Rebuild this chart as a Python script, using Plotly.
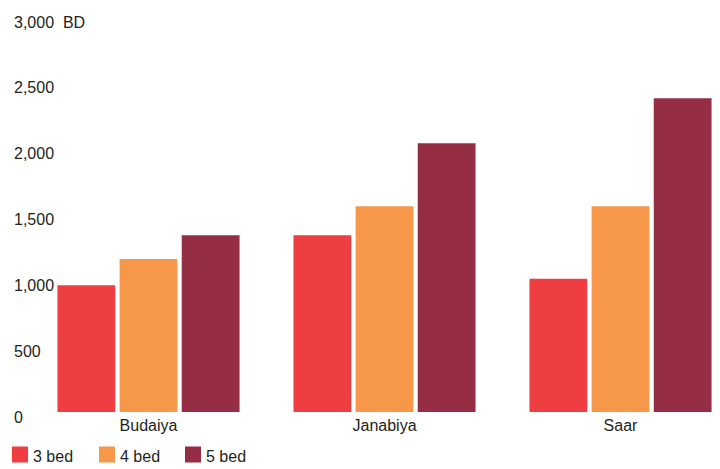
import plotly.graph_objects as go

# Monthly rents (BD) by area and villa size
areas = ["Budaiya", "Janabiya", "Saar"]
series_names = ["3 bed", "4 bed", "5 bed"]
rent_3bed = [1000, 1380, 1050]
rent_4bed = [1200, 1600, 1600]
rent_5bed = [1380, 2080, 2420]
series_values = [rent_3bed, rent_4bed, rent_5bed]
colors = ["#EE3E42", "#F69749", "#952D44"]

tick_values = [0, 500, 1000, 1500, 2000, 2500, 3000]
tick_labels = ["0", "500", "1,000", "1,500", "2,000", "2,500", "3,000  BD"]

FONT = "Liberation Sans, Arial, sans-serif"
TEXT_COLOR = "#231F20"
FONT_SIZE = 16

L, R, T, B = 40, 0, 22, 57
W, H = 720, 469
plot_w = W - L - R
plot_h = H - T - B
Y_RANGE = [38, 3000]


def px_x(px):
    """Horizontal pixel position -> paper fraction."""
    return (px - L) / plot_w


def px_y(px):
    """Vertical pixel position -> paper fraction."""
    return (H - B - px) / plot_h


fig = go.Figure()

for name, vals, col in zip(series_names, series_values, colors):
    fig.add_trace(go.Bar(
        x=areas, y=vals, name=name, marker=dict(color=col, line=dict(width=0)),
        showlegend=False, hoverinfo="x+y",
    ))

# left-aligned value labels placed on the y scale
for v, lab in zip(tick_values, tick_labels):
    fig.add_annotation(
        x=px_x(12), xref="paper",
        y=(v - Y_RANGE[0]) / (Y_RANGE[1] - Y_RANGE[0]), yref="paper",
        text=lab, showarrow=False, xanchor="left", yanchor="middle",
        font=dict(family=FONT, size=FONT_SIZE, color=TEXT_COLOR),
    )

# legend row: square swatch followed by the series name
legend_x = [12, 99, 185]
for lx, name, col in zip(legend_x, series_names, colors):
    fig.add_shape(
        type="rect", xref="paper", yref="paper",
        x0=px_x(lx), x1=px_x(lx + 16), y0=px_y(462.5), y1=px_y(446.5),
        fillcolor=col, line=dict(width=0),
    )
    fig.add_annotation(
        x=px_x(lx + 19), xref="paper", y=px_y(456), yref="paper",
        text=name, showarrow=False, xanchor="left", yanchor="middle",
        font=dict(family=FONT, size=FONT_SIZE, color=TEXT_COLOR),
    )

fig.update_layout(
    width=W, height=H,
    margin=dict(l=L, r=R, t=T, b=B, pad=0, autoexpand=False),
    paper_bgcolor="white", plot_bgcolor="white",
    barmode="group", bargap=0.21, bargroupgap=0.07,
    font=dict(family=FONT, size=FONT_SIZE, color=TEXT_COLOR),
    showlegend=False,
    xaxis=dict(
        range=[-0.4597, 2.4216], showgrid=False, zeroline=False,
        showline=False, ticks="", ticklabelstandoff=2,
        tickfont=dict(family=FONT, size=FONT_SIZE, color=TEXT_COLOR),
    ),
    yaxis=dict(
        range=Y_RANGE, showgrid=False, zeroline=False,
        showline=False, showticklabels=False, ticks="",
    ),
)

fig.write_html("out.html")
